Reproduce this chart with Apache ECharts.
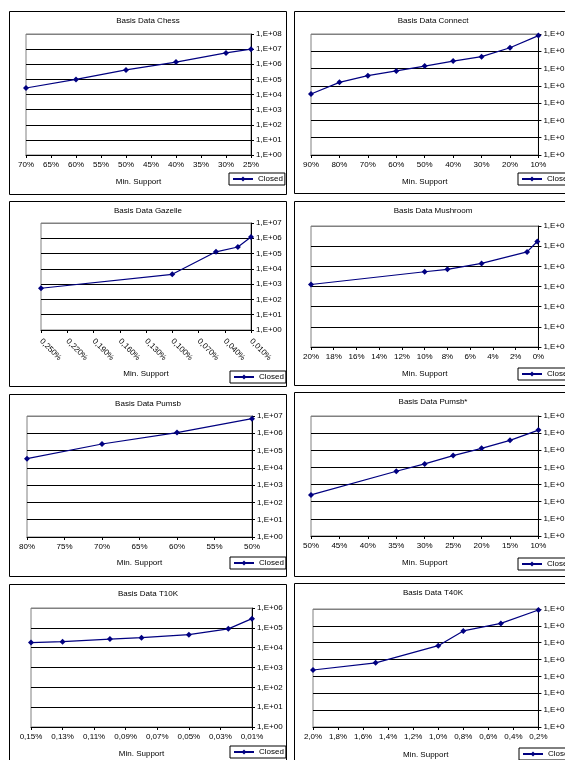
<!DOCTYPE html>
<html>
<head>
<meta charset="utf-8">
<script src="https://cdn.jsdelivr.net/npm/echarts@6/dist/echarts.min.js"></script>
<style>
  html, body { margin: 0; padding: 0; background: #fff; width: 565px; height: 760px; overflow: hidden; }
  .panel { position: absolute; }
</style>
</head>
<body>
<script>
// Closed itemset counts per minimum support, one block per data set.
const chessSupport = [70, 60, 50, 40, 30, 25];
const chessClosed  = [2.7e4, 1.0e5, 4.2e5, 1.4e6, 5.6e6, 1.0e7];
const chessTicks   = [70, 65, 60, 55, 50, 45, 40, 35, 30, 25];

const connectSupport = [90, 80, 70, 60, 50, 40, 30, 20, 10];
const connectClosed  = [3.4e3, 1.6e4, 3.9e4, 7.3e4, 1.4e5, 2.7e5, 4.9e5, 1.6e6, 8.1e6];
const connectTicks   = [90, 80, 70, 60, 50, 40, 30, 20, 10];

const gazelleSupport = [0.25, 0.10, 0.05, 0.025, 0.01];
const gazelleClosed  = [5.4e2, 4.4e3, 1.3e5, 2.7e5, 1.2e6];
const gazelleTicks   = [0.25, 0.22, 0.19, 0.16, 0.13, 0.10, 0.07, 0.04, 0.01];

const mushroomSupport = [20, 10, 8, 5, 1, 0.1];
const mushroomClosed  = [1.26e3, 5.4e3, 7.1e3, 1.4e4, 5.2e4, 1.7e5];
const mushroomTicks   = [20, 18, 16, 14, 12, 10, 8, 6, 4, 2, 0];

const pumsbSupport = [80, 70, 60, 50];
const pumsbClosed  = [3.4e4, 2.4e5, 1.1e6, 7.0e6];
const pumsbTicks   = [80, 75, 70, 65, 60, 55, 50];

const pumsbStarSupport = [50, 35, 30, 25, 20, 15, 10];
const pumsbStarClosed  = [2.5e2, 6.0e3, 1.6e4, 4.9e4, 1.3e5, 3.8e5, 1.5e6];
const pumsbStarTicks   = [50, 45, 40, 35, 30, 25, 20, 15, 10];

const t10kSupport = [0.15, 0.13, 0.10, 0.08, 0.05, 0.025, 0.01];
const t10kClosed  = [1.8e4, 2.0e4, 2.7e4, 3.2e4, 4.5e4, 8.9e4, 2.9e5];
const t10kTicks   = [0.15, 0.13, 0.11, 0.09, 0.07, 0.05, 0.03, 0.01];

const t40kSupport = [2.0, 1.5, 1.0, 0.8, 0.5, 0.2];
const t40kClosed  = [2.4e3, 6.4e3, 6.7e4, 5.0e5, 1.4e6, 8.7e6];
const t40kTicks   = [2.0, 1.8, 1.6, 1.4, 1.2, 1.0, 0.8, 0.6, 0.4, 0.2];

const seriesName = 'Closed';
const axisName = 'Min. Support';

const FONT = '"Liberation Sans", Arial, Helvetica, sans-serif';
const LINE = '#000080';

const pctLabel = (digits) => (v) => v.toFixed(digits).replace('.', ',') + '%';
const expLabel = (v) => '1,E+' + String(Math.round(Math.log10(v))).padStart(2, '0');

// Panel placement and per-chart layout.
const panels = [
  { title: 'Basis Data Chess', support: chessSupport, closed: chessClosed, ticks: chessTicks, yMaxExp: 8, digits: 0,
    box: [9, 11, 278, 184], grid: [17, 36, 23, 40], nameGap: 23, legend: [220, 162] },
  { title: 'Basis Data Connect', support: connectSupport, closed: connectClosed, ticks: connectTicks, yMaxExp: 7, digits: 0,
    box: [294, 11, 278, 183], grid: [17, 33, 23, 39], nameGap: 23, legend: [224, 162] },
  { title: 'Basis Data Gazelle', support: gazelleSupport, closed: gazelleClosed, ticks: gazelleTicks, yMaxExp: 7, digits: 3, rotate: -45,
    box: [9, 201, 278, 186], grid: [32, 36, 22, 57], nameGap: 40, legend: [221, 170] },
  { title: 'Basis Data Mushroom', support: mushroomSupport, closed: mushroomClosed, ticks: mushroomTicks, yMaxExp: 6, digits: 0,
    box: [294, 201, 278, 185], grid: [17, 33, 25, 39], nameGap: 23, legend: [224, 167] },
  { title: 'Basis Data Pumsb', support: pumsbSupport, closed: pumsbClosed, ticks: pumsbTicks, yMaxExp: 7, digits: 0,
    box: [9, 394, 278, 183], grid: [18, 35, 22, 40], nameGap: 22, legend: [221, 163] },
  { title: 'Basis Data Pumsb*', support: pumsbStarSupport, closed: pumsbStarClosed, ticks: pumsbStarTicks, yMaxExp: 7, digits: 0,
    box: [294, 392, 278, 185], grid: [17, 33, 24, 41], nameGap: 23, legend: [224, 166] },
  { title: 'Basis Data T10K', support: t10kSupport, closed: t10kClosed, ticks: t10kTicks, yMaxExp: 6, digits: 2,
    box: [9, 584, 278, 183], grid: [22, 35, 24, 40], nameGap: 23, legend: [221, 162] },
  { title: 'Basis Data T40K', support: t40kSupport, closed: t40kClosed, ticks: t40kTicks, yMaxExp: 7, digits: 1,
    box: [294, 583, 278, 183], grid: [19, 32, 26, 39], nameGap: 24, legend: [225, 165] }
];

panels.forEach((p) => {
  const [x, y, w, h] = p.box;
  const el = document.createElement('div');
  el.className = 'panel';
  el.style.left = x + 'px';
  el.style.top = y + 'px';
  el.style.width = w + 'px';
  el.style.height = h + 'px';
  document.body.appendChild(el);

  const chart = echarts.init(el, null, { renderer: 'canvas', width: w, height: h });

  // black gridlines, grey top edge of the plot area
  const splitColors = [];
  for (let i = 0; i < p.yMaxExp; i++) splitColors.push('#000');
  splitColors.push('#808080');

  chart.setOption({
    animation: false,
    backgroundColor: '#fff',
    textStyle: { fontFamily: FONT },
    title: {
      text: p.title, left: 'center', top: 6, padding: 0,
      textStyle: { fontSize: 8, fontWeight: 'normal', color: '#000', fontFamily: FONT }
    },
    graphic: [{
      type: 'rect', silent: true, z: 100,
      shape: { x: 0.5, y: 0.5, width: w - 1, height: h - 1 },
      style: { fill: 'none', stroke: '#000', lineWidth: 1 }
    }],
    legend: {
      data: [seriesName], left: p.legend[0], top: p.legend[1],
      padding: [2, 2, 2, 3], itemWidth: 20, itemHeight: 6, itemGap: 0,
      borderColor: '#000', borderWidth: 1, borderRadius: 0, selectedMode: false,
      textStyle: { fontSize: 8, color: '#000', fontFamily: FONT }
    },
    grid: {
      left: p.grid[0], right: p.grid[1], top: p.grid[2], bottom: p.grid[3],
      show: true, borderColor: '#808080', borderWidth: 1, backgroundColor: '#fff', containLabel: false
    },
    xAxis: {
      type: 'value', inverse: true,
      min: Math.min(...p.ticks), max: Math.max(...p.ticks),
      axisLine: { onZero: false, lineStyle: { color: '#000', width: 1 } },
      axisTick: { show: true, customValues: p.ticks, length: 3, lineStyle: { color: '#000' } },
      axisLabel: {
        customValues: p.ticks, formatter: pctLabel(p.digits), rotate: p.rotate || 0,
        fontSize: 8, color: '#000', margin: p.rotate ? 10 : 6, fontFamily: FONT
      },
      splitLine: { show: false },
      name: axisName, nameLocation: 'middle', nameGap: p.nameGap,
      nameTextStyle: { fontSize: 8, color: '#000', fontFamily: FONT }
    },
    yAxis: {
      type: 'log', logBase: 10, min: 1, max: Math.pow(10, p.yMaxExp), position: 'right',
      axisLine: { show: true, onZero: false, lineStyle: { color: '#000', width: 1 } },
      axisTick: { show: true, length: 3, lineStyle: { color: '#000' } },
      axisLabel: { formatter: expLabel, fontSize: 8, color: '#000', margin: 5, fontFamily: FONT },
      splitLine: { show: true, lineStyle: { color: splitColors, width: 1 } }
    },
    series: [{
      name: seriesName, type: 'line',
      data: p.support.map((s, i) => [s, p.closed[i]]),
      symbol: 'diamond', symbolSize: 6,
      lineStyle: { color: LINE, width: 1.2 },
      itemStyle: { color: LINE }
    }]
  });
});
</script>
</body>
</html>
